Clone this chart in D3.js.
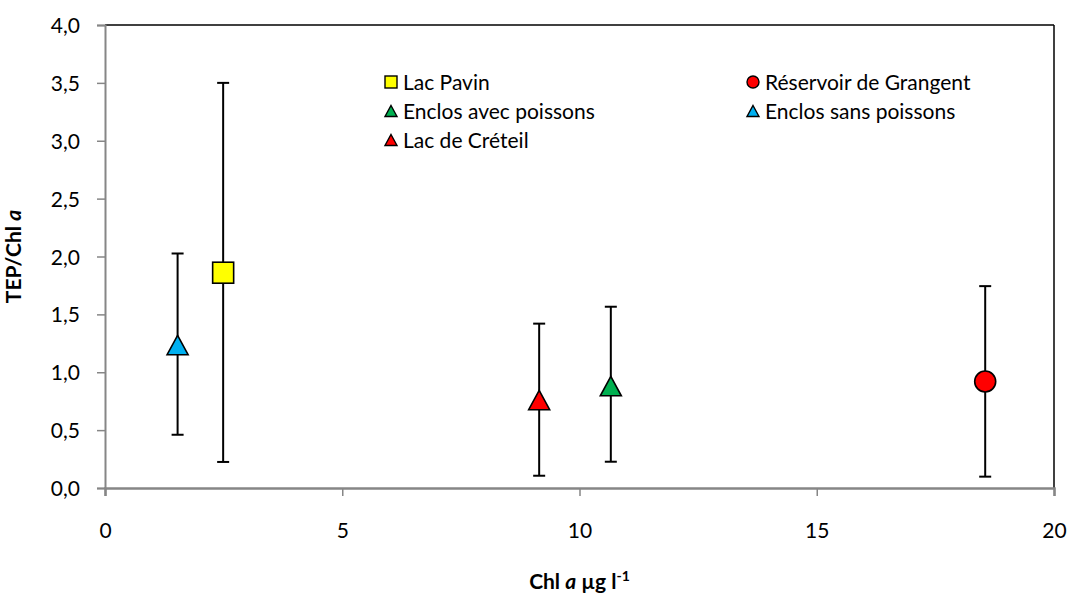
<!DOCTYPE html>
<html><head><meta charset="utf-8">
<script src="https://cdn.jsdelivr.net/npm/d3@7"></script>
<style>
html,body{margin:0;padding:0;background:#fff;}
svg{display:block;font-family:Lato,"Open Sans",sans-serif;}
</style></head>
<body>
<svg id="c" width="1069" height="593"></svg>
<script>
// ---- data ----
const seriesNames = ["Lac Pavin","Réservoir de Grangent","Enclos avec poissons","Enclos sans poissons","Lac de Créteil"];
const chlValues   = [2.49, 18.55, 10.66, 1.53, 9.15];
const tepValues   = [1.86, 0.92, 0.88, 1.235, 0.76];
const errLow      = [0.225, 0.098, 0.227, 0.46, 0.106];
const errHigh     = [3.50, 1.744, 1.566, 2.026, 1.42];
const shapes      = ["square","circle","triangle","triangle","triangle"];
const colors      = ["#FFFF00","#FF0000","#00B050","#00B0F0","#FF0000"];
const xTicks = [0,5,10,15,20];
const yTicks = [0,0.5,1,1.5,2,2.5,3,3.5,4];

const svg = d3.select("#c");
const L=105,R=1054,T=25,B=488;
const FS=21;
const x = d3.scaleLinear().domain([0,20]).range([L,R]);
const y = d3.scaleLinear().domain([0,4]).range([B,T]);
const fmt = d => d3.format(".1f")(d).replace(".",",");

// borders top/right
svg.append("line").attr("x1",L).attr("x2",R).attr("y1",T).attr("y2",T).attr("stroke","#000").attr("stroke-width",1.5);
svg.append("line").attr("x1",R).attr("x2",R).attr("y1",T).attr("y2",B).attr("stroke","#000").attr("stroke-width",1.5);

// y axis
const ya = svg.append("g").attr("transform",`translate(${L},0)`)
  .call(d3.axisLeft(y).tickValues(yTicks).tickFormat(fmt).tickSize(8).tickPadding(17));
ya.select(".domain").attr("stroke","#868686").attr("stroke-width",2);
ya.selectAll(".tick line").attr("stroke","#868686").attr("stroke-width",1.5);
ya.selectAll(".tick text").attr("font-size",FS).attr("fill","#000").attr("font-family","Lato").attr("dy","0.36em");

// x axis
const xa = svg.append("g").attr("transform",`translate(0,${B})`)
  .call(d3.axisBottom(x).tickValues(xTicks).tickFormat(d=>d).tickSize(8));
xa.select(".domain").attr("stroke","#868686").attr("stroke-width",2.5);
xa.selectAll(".tick line").attr("stroke","#868686").attr("stroke-width",1.5);
xa.selectAll(".tick text").attr("font-size",FS).attr("fill","#000").attr("font-family","Lato").attr("y",50).attr("dy",0);

// data
const data = seriesNames.map((n,i)=>({n,x:chlValues[i],y:tepValues[i],lo:errLow[i],hi:errHigh[i],s:shapes[i],c:colors[i]}));

const eb = svg.append("g");
data.forEach(d=>{
  const cx=x(d.x);
  eb.append("line").attr("x1",cx).attr("x2",cx).attr("y1",y(d.lo)).attr("y2",y(d.hi)).attr("stroke","#000").attr("stroke-width",2);
  [d.lo,d.hi].forEach(v=>eb.append("line").attr("x1",cx-6).attr("x2",cx+6).attr("y1",y(v)).attr("y2",y(v)).attr("stroke","#000").attr("stroke-width",2));
});

function marker(g,shape,cx,cy,sz,fill,sw){
  if(shape==="square"){
    g.append("rect").attr("x",cx-sz/2).attr("y",cy-sz/2).attr("width",sz).attr("height",sz)
      .attr("fill",fill).attr("stroke","#000").attr("stroke-width",sw);
  } else if(shape==="circle"){
    g.append("circle").attr("cx",cx).attr("cy",cy).attr("r",sz/2).attr("fill",fill).attr("stroke","#000").attr("stroke-width",sw);
  } else {
    const h=sz*0.92, w=sz;
    g.append("path").attr("d",`M${cx},${cy-h/2}L${cx+w/2},${cy+h/2}L${cx-w/2},${cy+h/2}Z`)
      .attr("fill",fill).attr("stroke","#000").attr("stroke-width",sw).attr("stroke-linejoin","miter");
  }
}
const mk = svg.append("g");
data.forEach(d=>marker(mk,d.s,x(d.x),y(d.y),21,d.c,1.6));

// legend
const legPos = [[391,82],[753,82],[391,111],[753,111],[391,140]];
const lg = svg.append("g");
data.forEach((d,i)=>{
  const [lx,ly]=legPos[i];
  marker(lg,d.s,lx,ly,12,d.c,1.4);
  lg.append("text").attr("x",lx+12).attr("y",ly).attr("dy","0.36em")
    .attr("font-size",FS).attr("font-family","Lato").text(d.n);
});

// axis titles
const yt = svg.append("text").attr("transform",`translate(21,${(T+B)/2}) rotate(-90)`)
  .attr("text-anchor","middle").attr("font-size",FS).attr("font-weight","bold").attr("font-family","Lato");
yt.append("tspan").text("TEP/Chl ");
yt.append("tspan").attr("font-style","italic").text("a");

const xt = svg.append("text").attr("x",(L+R)/2).attr("y",589)
  .attr("text-anchor","middle").attr("font-size",FS).attr("font-weight","bold").attr("font-family","Lato");
xt.append("tspan").text("Chl ");
xt.append("tspan").attr("font-style","italic").text("a");
xt.append("tspan").text(" µg l");
xt.append("tspan").attr("font-size",14).attr("dy",-8).text("-1");
</script>
</body></html>
